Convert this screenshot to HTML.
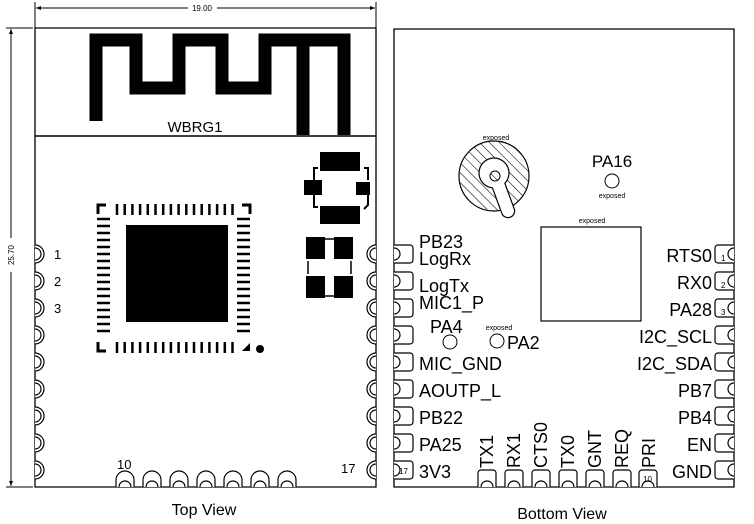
<!DOCTYPE html>
<html><head><meta charset="utf-8"><style>
html,body{margin:0;padding:0;background:#fff;}
svg{display:block;}
text{font-family:"Liberation Sans",sans-serif;fill:#000;}
</style></head><body>
<svg width="754" height="524" viewBox="0 0 754 524" xmlns="http://www.w3.org/2000/svg">
<defs>
<pattern id="hatch" width="7" height="7" patternUnits="userSpaceOnUse" patternTransform="rotate(-45)">
<line x1="0" y1="0" x2="0" y2="7" stroke="#000" stroke-width="1.1"/>
</pattern>
<path id="lc" d="M35 245 a9 9 0 0 1 0 18 M35 248 a6 6 0 0 1 0 12" fill="#fff" stroke="#000" stroke-width="1.2"/>
<path id="rc" d="M376 245 a9 9 0 0 0 0 18 M376 248 a6 6 0 0 0 0 12" fill="#fff" stroke="#000" stroke-width="1.2"/>
<path id="bc" d="M116 487 v-7 a9 9 0 0 1 18 0 v7 M119 487 a6 6 0 0 1 12 0" fill="#fff" stroke="#000" stroke-width="1.2"/>
<path id="lp" d="M394 245 h16 a3 3 0 0 1 3 3 v12 a3 3 0 0 1 -3 3 h-16 M394 248 a6 6 0 0 1 0 12" fill="#fff" stroke="#000" stroke-width="1.2"/>
<path id="rp" d="M734 245 h-16 a3 3 0 0 0 -3 3 v12 a3 3 0 0 0 3 3 h16 M734 248 a6 6 0 0 0 0 12" fill="#fff" stroke="#000" stroke-width="1.2"/>
<path id="bp" d="M478 487 v-14 a3 3 0 0 1 3 -3 h12 a3 3 0 0 1 3 3 v14 M481 487 a6 6 0 0 1 12 0" fill="#fff" stroke="#000" stroke-width="1.2"/>
</defs>
<g stroke="#000" stroke-width="1" fill="none">
<line x1="35" y1="2" x2="35" y2="28"/><line x1="376" y1="2" x2="376" y2="28"/>
<line x1="36" y1="8" x2="188" y2="8"/><line x1="217" y1="8" x2="375" y2="8"/>
<line x1="6" y1="28" x2="33" y2="28"/><line x1="6" y1="487" x2="33" y2="487"/>
<line x1="11" y1="29" x2="11" y2="238"/><line x1="11" y1="272" x2="11" y2="486"/>
</g>
<path d="M36 8 l5 -2 v4z M375 8 l-5 -2 v4z M11 29 l-2 5 h4z M11 486 l-2 -5 h4z" fill="#000"/>
<text x="202" y="11" font-size="8" text-anchor="middle">19.00</text>
<text x="0" y="0" font-size="8" text-anchor="middle" transform="translate(14,255) rotate(-90)">25.70</text>

<path d="M35 28 H376 V487 H35 Z" fill="none" stroke="#000" stroke-width="1.3"/>
<line x1="35" y1="136" x2="376" y2="136" stroke="#000" stroke-width="1.5"/>
<polyline points="96,121 96,40 136,40 136,88 179,88 179,40 222,40 222,88 265,88 265,40 344,40 344,135" fill="none" stroke="#000" stroke-width="13" stroke-linejoin="miter"/>
<line x1="303" y1="40" x2="303" y2="135" stroke="#000" stroke-width="13"/>
<text x="195" y="132" font-size="15" text-anchor="middle">WBRG1</text>
<g fill="#000">
<rect x="320" y="152" width="40" height="19"/>
<rect x="304" y="180" width="18" height="15"/>
<rect x="356" y="182" width="14" height="13"/>
<rect x="320" y="206" width="40" height="18"/>
</g>
<path d="M318 168 h-4 v12 M314 195 v12 h4 M364 168 h4 v12 M368 195 v10 l-4 4" fill="none" stroke="#000" stroke-width="2"/>
<g fill="#000">
<rect x="306" y="237" width="19" height="22"/><rect x="334" y="237" width="19" height="22"/>
<rect x="306" y="276" width="19" height="22"/><rect x="334" y="276" width="19" height="22"/>
</g>
<path d="M325 239 h9 M325 296 h9 M308 261 v13 M351 261 v13" stroke="#000" stroke-width="1.5"/>
<rect x="126" y="225" width="102" height="97" fill="#000"/>
<path d="M98 214 v-9 h8 M250 214 v-9 h-8 M98 342 v9 h8" fill="none" stroke="#000" stroke-width="3"/>
<path d="M242 351 l8 -8 v8 z" fill="#000"/>
<circle cx="260" cy="349" r="4" fill="#000"/>
<g stroke="#000" stroke-width="2.5" id="pins">
<line x1="117" y1="204" x2="117" y2="215"/><line x1="124.7" y1="204" x2="124.7" y2="215"/><line x1="132.4" y1="204" x2="132.4" y2="215"/><line x1="140.1" y1="204" x2="140.1" y2="215"/><line x1="147.8" y1="204" x2="147.8" y2="215"/><line x1="155.5" y1="204" x2="155.5" y2="215"/><line x1="163.2" y1="204" x2="163.2" y2="215"/><line x1="170.9" y1="204" x2="170.9" y2="215"/><line x1="178.6" y1="204" x2="178.6" y2="215"/><line x1="186.3" y1="204" x2="186.3" y2="215"/><line x1="194" y1="204" x2="194" y2="215"/><line x1="201.7" y1="204" x2="201.7" y2="215"/><line x1="209.4" y1="204" x2="209.4" y2="215"/><line x1="217.1" y1="204" x2="217.1" y2="215"/><line x1="224.8" y1="204" x2="224.8" y2="215"/><line x1="232.5" y1="204" x2="232.5" y2="215"/>
</g>
<use href="#pins" transform="translate(0,138)"/>
<g stroke="#000" stroke-width="2.5" id="spins">
<line x1="97" y1="219" x2="110" y2="219"/><line x1="97" y1="226" x2="110" y2="226"/><line x1="97" y1="233" x2="110" y2="233"/><line x1="97" y1="240" x2="110" y2="240"/><line x1="97" y1="247" x2="110" y2="247"/><line x1="97" y1="254" x2="110" y2="254"/><line x1="97" y1="261" x2="110" y2="261"/><line x1="97" y1="268" x2="110" y2="268"/><line x1="97" y1="275" x2="110" y2="275"/><line x1="97" y1="282" x2="110" y2="282"/><line x1="97" y1="289" x2="110" y2="289"/><line x1="97" y1="296" x2="110" y2="296"/><line x1="97" y1="303" x2="110" y2="303"/><line x1="97" y1="310" x2="110" y2="310"/><line x1="97" y1="317" x2="110" y2="317"/><line x1="97" y1="324" x2="110" y2="324"/><line x1="97" y1="331" x2="110" y2="331"/>
</g>
<use href="#spins" transform="translate(140,0)"/>
<use href="#lc"/><use href="#lc" transform="translate(0,27)"/><use href="#lc" transform="translate(0,54)"/><use href="#lc" transform="translate(0,81)"/><use href="#lc" transform="translate(0,108)"/><use href="#lc" transform="translate(0,135)"/><use href="#lc" transform="translate(0,162)"/><use href="#lc" transform="translate(0,189)"/><use href="#lc" transform="translate(0,216)"/>
<use href="#rc"/><use href="#rc" transform="translate(0,27)"/><use href="#rc" transform="translate(0,54)"/><use href="#rc" transform="translate(0,81)"/><use href="#rc" transform="translate(0,108)"/><use href="#rc" transform="translate(0,135)"/><use href="#rc" transform="translate(0,162)"/><use href="#rc" transform="translate(0,189)"/><use href="#rc" transform="translate(0,216)"/>
<g font-size="13"><text x="54" y="259">1</text><text x="54" y="286">2</text><text x="54" y="313">3</text><text x="117" y="469">10</text><text x="341" y="473">17</text></g>
<use href="#bc"/><use href="#bc" transform="translate(27,0)"/><use href="#bc" transform="translate(54,0)"/><use href="#bc" transform="translate(81,0)"/><use href="#bc" transform="translate(108,0)"/><use href="#bc" transform="translate(135,0)"/><use href="#bc" transform="translate(162,0)"/>
<text x="204" y="515" font-size="16" text-anchor="middle">Top View</text>

<!-- BOTTOM VIEW -->
<path d="M394 29 H734 V487 H394 Z" fill="none" stroke="#000" stroke-width="1.3"/>
<circle cx="494" cy="176" r="35" fill="#fff" stroke="#000" stroke-width="1.2"/>
<circle cx="494" cy="176" r="34.4" fill="url(#hatch)"/>
<line x1="494" y1="173" x2="508" y2="211" stroke="#000" stroke-width="14.4" stroke-linecap="round"/>
<circle cx="494" cy="173" r="15.6" fill="#000"/>
<line x1="494" y1="173" x2="508" y2="211" stroke="#fff" stroke-width="12" stroke-linecap="round"/>
<circle cx="494" cy="173" r="14.4" fill="#fff"/>
<circle cx="495" cy="176" r="5" fill="url(#hatch)" stroke="#000"/>
<text x="496" y="140" font-size="7" text-anchor="middle">exposed</text>
<text x="612" y="167" font-size="17" text-anchor="middle">PA16</text>
<circle cx="612" cy="181" r="7" fill="none" stroke="#000"/>
<text x="612" y="198" font-size="7" text-anchor="middle">exposed</text>
<text x="592" y="223" font-size="7" text-anchor="middle">exposed</text>
<rect x="541" y="227" width="100" height="94" fill="none" stroke="#000" stroke-width="1.2"/>
<circle cx="450" cy="342" r="7" fill="none" stroke="#000"/>
<circle cx="497" cy="341" r="7" fill="none" stroke="#000"/>
<text x="499" y="330" font-size="7" text-anchor="middle">exposed</text>
<g font-size="18">
<text x="430" y="333">PA4</text><text x="507" y="349">PA2</text>
<text x="419" y="248">PB23</text><text x="419" y="265">LogRx</text><text x="419" y="292">LogTx</text><text x="419" y="309">MIC1_P</text>
<text x="419" y="370">MIC_GND</text><text x="419" y="397">AOUTP_L</text><text x="419" y="424">PB22</text><text x="419" y="451">PA25</text><text x="419" y="478">3V3</text>
</g>
<g font-size="18" text-anchor="end">
<text x="712" y="262">RTS0</text><text x="712" y="289">RX0</text><text x="712" y="316">PA28</text><text x="712" y="343">I2C_SCL</text><text x="712" y="370">I2C_SDA</text><text x="712" y="397">PB7</text><text x="712" y="424">PB4</text><text x="712" y="451">EN</text><text x="712" y="478">GND</text>
</g>
<g font-size="18">
<text transform="translate(493,468) rotate(-90)">TX1</text>
<text transform="translate(520,468) rotate(-90)">RX1</text>
<text transform="translate(547,468) rotate(-90)">CTS0</text>
<text transform="translate(574,468) rotate(-90)">TX0</text>
<text transform="translate(601,468) rotate(-90)">GNT</text>
<text transform="translate(628,468) rotate(-90)">REQ</text>
<text transform="translate(655,468) rotate(-90)">PRI</text>
</g>
<use href="#lp"/><use href="#lp" transform="translate(0,27)"/><use href="#lp" transform="translate(0,54)"/><use href="#lp" transform="translate(0,81)"/><use href="#lp" transform="translate(0,108)"/><use href="#lp" transform="translate(0,135)"/><use href="#lp" transform="translate(0,162)"/><use href="#lp" transform="translate(0,189)"/><use href="#lp" transform="translate(0,216)"/>
<use href="#rp"/><use href="#rp" transform="translate(0,27)"/><use href="#rp" transform="translate(0,54)"/><use href="#rp" transform="translate(0,81)"/><use href="#rp" transform="translate(0,108)"/><use href="#rp" transform="translate(0,135)"/><use href="#rp" transform="translate(0,162)"/><use href="#rp" transform="translate(0,189)"/><use href="#rp" transform="translate(0,216)"/>
<use href="#bp"/><use href="#bp" transform="translate(27,0)"/><use href="#bp" transform="translate(54,0)"/><use href="#bp" transform="translate(81,0)"/><use href="#bp" transform="translate(108,0)"/><use href="#bp" transform="translate(135,0)"/><use href="#bp" transform="translate(161,0)"/>
<g font-size="8">
<text x="721" y="261" font-family="Liberation Serif">1</text><text x="721" y="288" font-family="Liberation Serif">2</text><text x="721" y="315" font-family="Liberation Serif">3</text>
<text x="399" y="474" font-family="Liberation Serif">17</text><text x="643" y="482" font-family="Liberation Serif">10</text>
</g>
<text x="562" y="519" font-size="16" text-anchor="middle">Bottom View</text>
</svg>
</body></html>
